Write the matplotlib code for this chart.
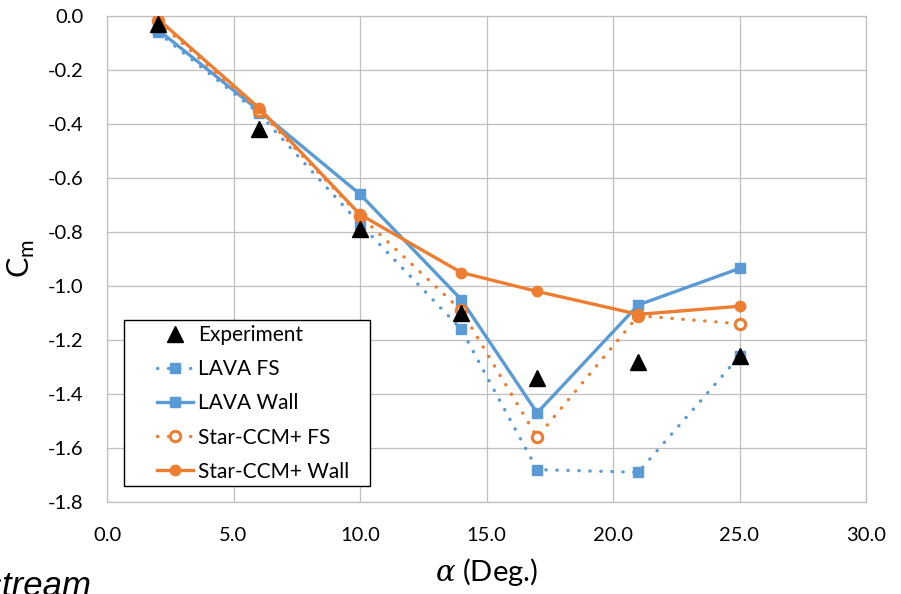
import matplotlib
matplotlib.use("Agg")
import matplotlib.pyplot as plt
from matplotlib.patches import Rectangle
from matplotlib.ticker import MultipleLocator, FormatStrFormatter

plt.rcParams['font.family'] = ['Lato', 'DejaVu Sans']
plt.rcParams['mathtext.fontset'] = 'dejavuserif'

alpha = [2, 6, 10, 14, 17, 21, 25]
experiment = [-0.03, -0.42, -0.79, -1.10, -1.34, -1.28, -1.26]
lava_fs = [-0.06, -0.36, -0.77, -1.16, -1.68, -1.69, -1.26]
lava_wall = [-0.05, -0.35, -0.66, -1.05, -1.47, -1.07, -0.935]
star_fs = [-0.02, -0.35, -0.74, -1.09, -1.56, -1.11, -1.14]
star_wall = [-0.01, -0.34, -0.735, -0.95, -1.02, -1.105, -1.075]

blue = '#5B9BD5'
orange = '#ED7D31'
W, H = 901, 594

fig = plt.figure(figsize=(W / 100, H / 100), dpi=100)
ax = fig.add_axes([107 / W, 1 - 502 / H, (866 - 107) / W, (502 - 16) / H])

lw = 2.4
dots = (0, (0.1, 3.2))
ax.plot(alpha, lava_fs, color=blue, lw=lw, ls=dots, dash_capstyle='round',
        marker='s', ms=6.5, mfc=blue, mec=blue, label='LAVA FS', zorder=3)
ax.plot(alpha, lava_wall, color=blue, lw=lw, marker='s', ms=6.5, mfc=blue, mec=blue,
        label='LAVA Wall', zorder=3)
ax.plot(alpha, star_fs, color=orange, lw=lw, ls=dots, dash_capstyle='round',
        marker='o', ms=7.5, mfc='white', mec=orange, mew=2.2, label='Star-CCM+ FS', zorder=4)
ax.plot(alpha, star_wall, color=orange, lw=lw, marker='o', ms=7.5, mfc=orange, mec=orange,
        label='Star-CCM+ Wall', zorder=4)
ax.plot(alpha, experiment, ls='none', marker='^', ms=11, color='black',
        label='Experiment', zorder=5)

ax.set_xlim(0, 30)
ax.set_ylim(-1.8, 0.0)
ax.xaxis.set_major_locator(MultipleLocator(5))
ax.yaxis.set_major_locator(MultipleLocator(0.2))
ax.xaxis.set_major_formatter(FormatStrFormatter('%.1f'))
ax.yaxis.set_major_formatter(FormatStrFormatter('%.1f'))
ax.grid(True, color='#BFBFBF', lw=0.9)
ax.set_axisbelow(True)
for s in ax.spines.values():
    s.set_color('#BFBFBF')
    s.set_linewidth(0.9)
ax.tick_params(length=0, labelsize=14.5)
ax.tick_params(axis='x', pad=18)
ax.tick_params(axis='y', pad=17)

ax.set_ylabel('C$_\\mathregular{m}$', fontsize=22, labelpad=8)
ax.set_xlabel('$\\mathit{\\alpha}$ (Deg.)', fontsize=21, labelpad=9)

# legend frame drawn as a separate box so its padding can be set freely
def px_to_ax(x, y):
    return (x - 107) / (866 - 107), (502 - y) / (502 - 16)

x0, y0 = px_to_ax(124, 486)
x1, y1 = px_to_ax(370, 320)
ax.add_patch(Rectangle((x0, y0), x1 - x0, y1 - y0, transform=ax.transAxes,
                       facecolor='white', edgecolor='black', lw=1.0, zorder=6))

handles, labels = ax.get_legend_handles_labels()
order = [4, 0, 1, 2, 3]
leg = ax.legend([handles[i] for i in order], [labels[i] for i in order],
                loc='upper left', bbox_to_anchor=px_to_ax(157, 325),
                fontsize=15, frameon=False, handlelength=1.75, handletextpad=0.2,
                borderpad=0, borderaxespad=0, labelspacing=0.68)
leg.set_zorder(7)

fig.text(92 / W, -2 / H, 'Freestream', fontsize=25, style='italic',
         ha='right', va='baseline', family=['Liberation Sans', 'DejaVu Sans'])

fig.savefig('out.png', dpi=100)
